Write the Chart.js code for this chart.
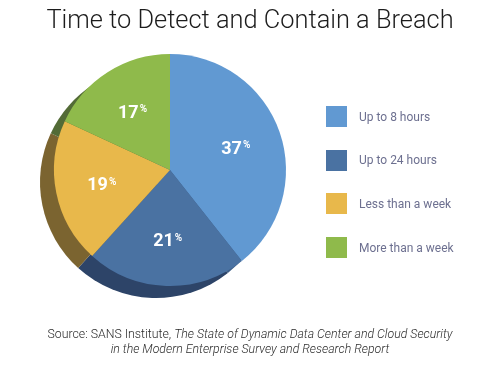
<!DOCTYPE html>
<html>
<head>
<meta charset="utf-8">
<script src="https://cdn.jsdelivr.net/npm/chart.js@4.4.1/dist/chart.umd.min.js"></script>
<style>
  body { margin: 0; background: #fff; font-family: Roboto, "Noto Sans", sans-serif; }
  #wrap { position: relative; width: 500px; height: 366px; overflow: hidden; }
  #chart { position: absolute; left: 0; top: 0; }
  #title { position: absolute; left: 0; top: 4px; width: 500px; text-align: center;
           font-size: 25.4px; line-height: 30px; font-weight: 300; color: #1c1c1c; }
  #legend { position: absolute; left: 326px; top: 106px; }
  .item { display: flex; align-items: center; height: 21px; margin-bottom: 22.7px;
          font-size: 12px; color: #6d7090; }
  .swatch { width: 21px; height: 21px; margin-right: 12px; }
  #source { position: absolute; left: 0; top: 327px; width: 500px; text-align: center;
            font-size: 12.3px; line-height: 15px; font-weight: 300; color: #2a2a2a; }
</style>
</head>
<body>
<div id="wrap">
  <canvas id="chart" width="500" height="366"></canvas>
  <div id="title">Time to Detect and Contain a Breach</div>
  <div id="legend"></div>
  <div id="source">Source: SANS Institute, <i>The State of Dynamic Data Center and Cloud Security</i><br><i>in the Modern Enterprise Survey and Research Report</i></div>
</div>
<script>
const labels = ['Up to 8 hours', 'Up to 24 hours', 'Less than a week', 'More than a week'];
const values = [37, 21, 19, 17];
const colors = ['#6199d2', '#4a72a2', '#e8b84b', '#8fba4b'];
const shadowColors = ['#3e5f88', '#2d4468', '#7b6430', '#536b36'];

// darker copy of each slice, pushed down-left, to fake the 3D edge
const shadowPlugin = {
  id: 'sliceShadow',
  beforeDatasetsDraw(chart) {
    const ctx = chart.ctx;
    const arcs = chart.getDatasetMeta(0).data;
    ctx.save();
    arcs.forEach((arc, i) => {
      const p = arc.getProps(['x', 'y', 'startAngle', 'endAngle', 'outerRadius'], true);
      const cx = p.x - 14, cy = p.y + 12;
      ctx.beginPath();
      ctx.moveTo(cx, cy);
      ctx.arc(cx, cy, p.outerRadius, p.startAngle, p.endAngle);
      ctx.closePath();
      ctx.fillStyle = shadowColors[i];
      ctx.fill();
    });
    ctx.restore();
  }
};

// white percentage inside each slice, small superscript %
const valueLabels = {
  id: 'valueLabels',
  afterDatasetsDraw(chart) {
    const ctx = chart.ctx;
    const arcs = chart.getDatasetMeta(0).data;
    ctx.save();
    ctx.fillStyle = '#ffffff';
    arcs.forEach((arc, i) => {
      const p = arc.getProps(['x', 'y', 'startAngle', 'endAngle', 'outerRadius'], true);
      const mid = (p.startAngle + p.endAngle) / 2;
      const d = p.outerRadius * 0.6;
      const x = p.x + Math.cos(mid) * d;
      const y = p.y + Math.sin(mid) * d;
      const num = String(values[i]);
      ctx.font = 'bold 18px Roboto';
      const w1 = ctx.measureText(num).width;
      ctx.font = 'bold 10px Roboto';
      const w2 = ctx.measureText('%').width;
      const left = x - (w1 + w2 + 1) / 2;
      ctx.textBaseline = 'alphabetic';
      ctx.textAlign = 'left';
      ctx.font = 'bold 18px Roboto';
      ctx.fillText(num, left, y + 6.5);
      ctx.font = 'bold 10px Roboto';
      ctx.fillText('%', left + w1 + 1, y + 1);
    });
    ctx.restore();
  }
};

const legendBox = document.getElementById('legend');
labels.forEach((label, i) => {
  const item = document.createElement('div');
  item.className = 'item';
  const sw = document.createElement('span');
  sw.className = 'swatch';
  sw.style.background = colors[i];
  const tx = document.createElement('span');
  tx.textContent = label;
  item.appendChild(sw);
  item.appendChild(tx);
  legendBox.appendChild(item);
});

new Chart(document.getElementById('chart'), {
  type: 'pie',
  data: {
    labels: labels,
    datasets: [{
      data: values,
      backgroundColor: colors,
      borderWidth: 0,
      hoverOffset: 0
    }]
  },
  options: {
    responsive: false,
    animation: false,
    layout: { padding: { left: 54, right: 214, top: 54, bottom: 80 } },
    plugins: {
      legend: { display: false },
      tooltip: { enabled: false }
    }
  },
  plugins: [shadowPlugin, valueLabels]
});
</script>
</body>
</html>
